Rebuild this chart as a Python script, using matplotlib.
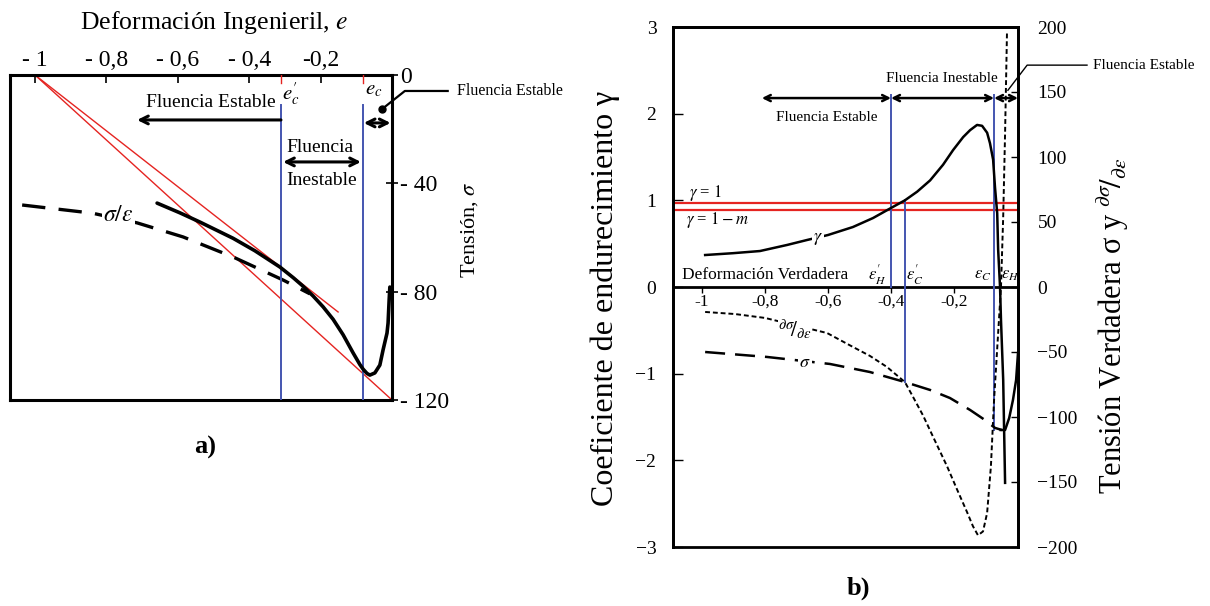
import numpy as np
import matplotlib
matplotlib.use("Agg")
import matplotlib.pyplot as plt


# ============================================================
# DATA
# ============================================================

# panel a) - engineering strain e vs. stress sigma
strain_a = [-0.658, -0.594, -0.538, -0.445, -0.384, -0.314, -0.277, -0.249,
            -0.221, -0.193, -0.165, -0.137, -0.109, -0.090, -0.081, -0.070,
            -0.062, -0.048, -0.034, -0.025, -0.014, -0.011, -0.008, -0.006]
stress_a = [-47.3, -50.9, -54.3, -60.3, -64.9, -70.9, -74.8, -78.0,
            -81.6, -85.6, -90.2, -95.9, -102.6, -106.9, -108.6, -110.2,
            -110.8, -110.0, -107.1, -101.5, -95.3, -91.6, -83.1, -78.3]

strain_ratio = [-1.036, -0.958, -0.840, -0.714, -0.585, -0.445, -0.305, -0.230]
stress_ratio = [-48.0, -49.2, -51.0, -54.6, -59.8, -67.2, -75.7, -80.8]

tangent_long = ([-1.0, 0.0], [0.0, -120.0])
tangent_short = ([-1.0, -0.151], [0.0, -87.5])

e_c_prime = -0.311
e_c = -0.081

xticks_a = [-1.0, -0.8, -0.6, -0.4, -0.2]
xticklabels_a = ["- 1", "- 0,8", "- 0,6", "- 0,4", "-0,2"]
yticks_a = [0, -40, -80, -120]
yticklabels_a = ["0", "- 40", "- 80", "- 120"]

# panel b) - true strain
strain_gamma = [-0.990, -0.902, -0.816, -0.730, -0.667, -0.600, -0.521, -0.457,
                -0.400, -0.356, -0.317, -0.276, -0.235, -0.203, -0.171, -0.149,
                -0.127, -0.111, -0.095, -0.086, -0.076, -0.070, -0.063, -0.060,
                -0.054, -0.051, -0.044, -0.038]
gamma = [0.369, 0.39, 0.415, 0.485, 0.542, 0.600, 0.692, 0.796,
         0.912, 1.0, 1.10, 1.23, 1.41, 1.58, 1.73, 1.81,
         1.87, 1.86, 1.78, 1.66, 1.47, 1.15, 0.85, 0.43,
         0.0, -0.38, -1.07, -2.26]

strain_sigma = [-0.990, -0.794, -0.594, -0.467, -0.356, -0.276, -0.213, -0.149,
                -0.102, -0.070, -0.048]
sigma = [-50.0, -53.8, -59.2, -65.4, -73.1, -79.2, -85.4, -94.6,
         -102.3, -108.4, -110.0]
strain_sigma_end = [-0.052, -0.038, -0.025, -0.013, -0.003, 0.003]
sigma_end = [-110.0, -110.0, -100.8, -86.9, -71.5, -50.8]

strain_dsig = [-0.990, -0.895, -0.800, -0.603, -0.521, -0.467, -0.413, -0.356,
               -0.330, -0.298, -0.267, -0.222, -0.190, -0.159, -0.140, -0.124,
               -0.108, -0.095, -0.083, -0.073, -0.060, -0.051, -0.044, -0.038,
               -0.032]
dsig = [-19.2, -20.8, -23.8, -35.4, -46.1, -53.0, -61.5, -73.1,
        -84.6, -99.0, -115.0, -138.0, -156.0, -173.0, -184.0, -191.0,
        -188.0, -173.8, -138.0, -87.0, -35.4, 0.0, 53.8, 118.4,
        195.4]

gamma_one = 0.97
gamma_one_m = 0.89

eps_h_prime = -0.400
eps_c_prime = -0.356
eps_c = -0.073

xticks_b = [-1.0, -0.8, -0.6, -0.4, -0.2]
xticklabels_b = ["-1", "-0,8", "-0,6", "-0,4", "-0,2"]
yticks_b = [3, 2, 1, 0, -1, -2, -3]
yticks_b2 = [200, 150, 100, 50, 0, -50, -100, -150, -200]


# ============================================================
# STYLE
# ============================================================

plt.rcParams["font.family"] = ["Liberation Serif", "DejaVu Serif"]
plt.rcParams["mathtext.fontset"] = "stix"

BLUE = "#4455b0"
RED = "#e52421"
W, H = 1210, 606


def fx(px):
    return px / W


def fy(py):
    return 1 - py / H


fig = plt.figure(figsize=(12.1, 6.06), dpi=100)

# ============================================================
# PANEL a)
# ============================================================

ax = fig.add_axes([fx(10), fy(400), 382 / W, 325 / H])
ax.set_xlim(-1.07, 0.0)
ax.set_ylim(-120, 0)
for s in ax.spines.values():
    s.set_linewidth(2.2)

ax.xaxis.tick_top()
ax.set_xticks(xticks_a)
ax.set_xticklabels(xticklabels_a, fontsize=17)
ax.tick_params(axis="x", direction="in", length=6, width=1.2, pad=3)
ax.yaxis.tick_right()
ax.set_yticks(yticks_a)
ax.set_yticklabels(yticklabels_a, fontsize=17)
ax.tick_params(axis="y", direction="inout", length=8, width=1.2, pad=2)

ax.plot(*tangent_long, color=RED, lw=1.0, zorder=2)
ax.plot(*tangent_short, color=RED, lw=1.0, zorder=2)
ax.plot(strain_ratio, stress_ratio, color="black", lw=2.4, dashes=(7, 4),
        zorder=3)
ax.plot(strain_a, stress_a, color="black", lw=2.6, zorder=4,
        solid_capstyle="round", solid_joinstyle="round")

for xv in (e_c_prime, e_c):
    ax.plot([xv, xv], [-11.1, -120], color=BLUE, lw=1.4, zorder=3)
    ax.plot([xv, xv], [0, -3], color=RED, lw=1.0, zorder=3)

ax.text(e_c_prime + 0.004, -2.0, r"$e_c^{\prime}$", fontsize=15, ha="left",
        va="top")
ax.text(e_c + 0.004, -2.0, r"$e_c$", fontsize=15, ha="left", va="top")

ax.text(-0.767, -51.7, r"$\sigma/\varepsilon$", fontsize=17, ha="center",
        va="center", zorder=5,
        bbox=dict(facecolor="white", edgecolor="none", pad=1))

arrow = dict(color="black", lw=2.2, shrinkA=0, shrinkB=0, mutation_scale=14)
ax.annotate("", xy=(-0.714, -16.6), xytext=(e_c_prime, -16.6),
            arrowprops=dict(arrowstyle="->", **arrow))
ax.text(-0.325, -10.3, "Fluencia Estable", fontsize=14, ha="right",
        va="center")
ax.annotate("", xy=(-0.087, -32.1), xytext=(-0.305, -32.1),
            arrowprops=dict(arrowstyle="<->", **arrow))
ax.text(-0.202, -26.6, "Fluencia", fontsize=14, ha="center", va="center")
ax.text(-0.196, -38.8, "Inestable", fontsize=14, ha="center", va="center")
ax.annotate("", xy=(-0.004, -17.7), xytext=(-0.079, -17.7),
            arrowprops=dict(arrowstyle="<->", **arrow))

ax.plot([-0.028, 0.036, 0.156], [-12.6, -5.9, -5.9], color="black", lw=1.6,
        clip_on=False)
ax.plot([-0.028], [-12.6], "o", color="black", ms=5, clip_on=False)
ax.text(0.182, -5.9, "Fluencia Estable", fontsize=11.5, ha="left",
        va="center", clip_on=False)

fig.text(fx(214), fy(23), r"Deformación Ingenieril, $e$", fontsize=18.5,
         ha="center", va="center")
fig.text(fx(470), fy(230), r"Tensión, $\sigma$", fontsize=16, rotation=90,
         ha="center", va="center")
fig.text(fx(205), fy(447), "a)", fontsize=19, fontweight="bold",
         ha="center", va="center")

# ============================================================
# PANEL b)
# ============================================================

bx = fig.add_axes([fx(673), fy(547), 345 / W, 520 / H])
bx.set_xlim(-1.092, 0.003)
bx.set_ylim(-3, 3)
bx2 = bx.twinx()
bx2.set_ylim(-200, 200)

for s in bx.spines.values():
    s.set_linewidth(2.0)
for s in bx2.spines.values():
    s.set_linewidth(2.0)
bx.spines["bottom"].set_position(("data", 0))

bx.set_xticks(xticks_b)
bx.set_xticklabels(xticklabels_b, fontsize=12.5)
bx.tick_params(axis="x", direction="out", length=4, width=1.0, pad=1)
bx.set_yticks(yticks_b)
bx.set_yticklabels([f"{v}".replace("-", "\u2212") for v in yticks_b],
                   fontsize=14)
bx.tick_params(axis="y", direction="in", length=7, width=1.0, pad=12)
bx2.set_yticks(yticks_b2)
bx2.set_yticklabels([f"{v}".replace("-", "\u2212") for v in yticks_b2],
                    fontsize=14)
bx2.tick_params(axis="y", direction="in", length=5, width=1.0, pad=14)

bx.axhline(gamma_one, color=RED, lw=1.6, zorder=2)
bx.axhline(gamma_one_m, color=RED, lw=1.6, zorder=2)
bx.text(-1.04, 1.09, r"$\gamma$ = $1$", fontsize=12, ha="left", va="center")
bx.text(-1.05, 0.77, r"$\gamma$ = $1 - m$", fontsize=12, ha="left",
        va="center")

bx.plot(strain_gamma, gamma, color="black", lw=1.8, zorder=4,
        solid_joinstyle="round")
bx.text(-0.632, 0.565, r"$\gamma$", fontsize=13, ha="center", va="center",
        zorder=5, bbox=dict(facecolor="white", edgecolor="none", pad=1))

bx.plot([eps_h_prime, eps_h_prime], [2.215, 0.0], color=BLUE, lw=1.4,
        zorder=3)
bx.plot([eps_c_prime, eps_c_prime], [1.0, -1.096], color=BLUE, lw=1.4,
        zorder=3)
bx.plot([eps_c, eps_c], [2.215, -1.65], color=BLUE, lw=1.4, zorder=3)

bx2.plot(strain_sigma, sigma, color="black", lw=1.8, dashes=(8, 4), zorder=4)
bx2.plot(strain_sigma_end, sigma_end, color="black", lw=1.8, zorder=4)
bx2.plot(strain_dsig, dsig, color="black", lw=1.4, dashes=(2.5, 1.5),
         zorder=4)
bx2.text(-0.673, -57.7, r"$\sigma$", fontsize=13, ha="center", va="center",
         zorder=5, bbox=dict(facecolor="white", edgecolor="none", pad=1))
bx2.text(-0.705, -33, r"$^{\partial\sigma}\!/_{\partial\varepsilon}$",
         fontsize=15, ha="center", va="center", zorder=5,
         bbox=dict(facecolor="white", edgecolor="none", pad=0))

bx.text(-0.80, 0.138, "Deformación Verdadera", fontsize=12.5, ha="center",
        va="center")
for xv, lab in [(-0.444, r"$\varepsilon_H^{\prime}$"),
                (-0.324, r"$\varepsilon_C^{\prime}$"),
                (-0.108, r"$\varepsilon_C$"), (-0.022, r"$\varepsilon_H$")]:
    bx.text(xv, 0.14, lab, fontsize=12, ha="center", va="center")

arrow_b = dict(color="black", lw=1.8, shrinkA=0, shrinkB=0,
               mutation_scale=11)
bx.annotate("", xy=(-0.810, 2.18), xytext=(eps_h_prime, 2.18),
            arrowprops=dict(arrowstyle="<->", **arrow_b))
bx.annotate("", xy=(eps_h_prime, 2.18), xytext=(eps_c, 2.18),
            arrowprops=dict(arrowstyle="<->", **arrow_b))
bx.annotate("", xy=(eps_c, 2.18), xytext=(0.003, 2.18),
            arrowprops=dict(arrowstyle="<->", **arrow_b))
bx.text(-0.603, 1.96, "Fluencia Estable", fontsize=11, ha="center",
        va="center")
bx.text(-0.238, 2.40, "Fluencia Inestable", fontsize=11, ha="center",
        va="center")
bx.plot([-0.029, 0.032, 0.222], [2.27, 2.56, 2.56], color="black", lw=1.0,
        clip_on=False)
bx.text(0.241, 2.56, "Fluencia Estable", fontsize=11, ha="left",
        va="center", clip_on=False)

fig.text(fx(605), fy(298), "Coeficiente de endurecimiento γ", fontsize=23,
         rotation=90, ha="center", va="center")
fig.text(fx(1113), fy(326),
         r"Tensión Verdadera σ y $^{\partial\sigma}\!/_{\partial\varepsilon}$",
         fontsize=22, rotation=90, ha="center", va="center")
fig.text(fx(858), fy(588), "b)", fontsize=19, fontweight="bold",
         ha="center", va="center")

fig.savefig("out.png", dpi=100)
